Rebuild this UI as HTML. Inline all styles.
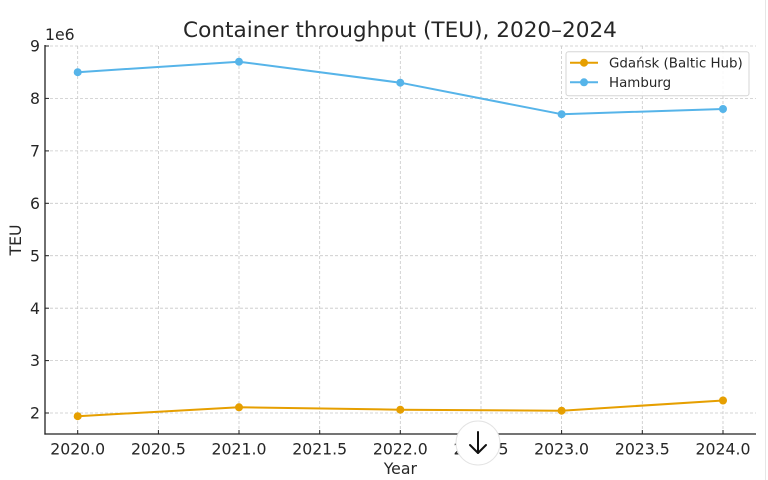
<!DOCTYPE html>
<html><head><meta charset="utf-8"><style>
html,body{margin:0;padding:0;background:#fff;}
svg{display:block;}
text{font-family:"DejaVu Sans","Liberation Sans",sans-serif;fill:#262626;}
</style></head><body>
<svg width="768" height="480" viewBox="0 0 768 480" xmlns="http://www.w3.org/2000/svg">
<rect width="768" height="480" fill="#fff"/>
<line x1="765.5" y1="0" x2="765.5" y2="480" stroke="#e6e6e6" stroke-width="1"/>
<!-- grid -->
<g stroke="#c8c8c8" stroke-width="0.8" stroke-dasharray="3,2">
<line x1="77.7" y1="46" x2="77.7" y2="434"/>
<line x1="158.4" y1="46" x2="158.4" y2="434"/>
<line x1="239" y1="46" x2="239" y2="434"/>
<line x1="319.7" y1="46" x2="319.7" y2="434"/>
<line x1="400.3" y1="46" x2="400.3" y2="434"/>
<line x1="481" y1="46" x2="481" y2="434"/>
<line x1="561.6" y1="46" x2="561.6" y2="434"/>
<line x1="642.3" y1="46" x2="642.3" y2="434"/>
<line x1="723" y1="46" x2="723" y2="434"/>
<line x1="45" y1="46" x2="756" y2="46"/>
<line x1="45" y1="98.4" x2="756" y2="98.4"/>
<line x1="45" y1="150.9" x2="756" y2="150.9"/>
<line x1="45" y1="203.3" x2="756" y2="203.3"/>
<line x1="45" y1="255.7" x2="756" y2="255.7"/>
<line x1="45" y1="308.2" x2="756" y2="308.2"/>
<line x1="45" y1="360.6" x2="756" y2="360.6"/>
<line x1="45" y1="413" x2="756" y2="413"/>
</g>
<!-- spines -->
<line x1="45" y1="45" x2="45" y2="434.6" stroke="#222" stroke-width="1.3"/>
<line x1="44.4" y1="434" x2="756" y2="434" stroke="#222" stroke-width="1.3"/>
<!-- ticks -->
<g stroke="#222" stroke-width="1">
<line x1="45" y1="46" x2="49" y2="46"/>
<line x1="45" y1="98.4" x2="49" y2="98.4"/>
<line x1="45" y1="150.9" x2="49" y2="150.9"/>
<line x1="45" y1="203.3" x2="49" y2="203.3"/>
<line x1="45" y1="255.7" x2="49" y2="255.7"/>
<line x1="45" y1="308.2" x2="49" y2="308.2"/>
<line x1="45" y1="360.6" x2="49" y2="360.6"/>
<line x1="45" y1="413" x2="49" y2="413"/>
<line x1="77.7" y1="434" x2="77.7" y2="430"/>
<line x1="158.4" y1="434" x2="158.4" y2="430"/>
<line x1="239" y1="434" x2="239" y2="430"/>
<line x1="319.7" y1="434" x2="319.7" y2="430"/>
<line x1="400.3" y1="434" x2="400.3" y2="430"/>
<line x1="481" y1="434" x2="481" y2="430"/>
<line x1="561.6" y1="434" x2="561.6" y2="430"/>
<line x1="642.3" y1="434" x2="642.3" y2="430"/>
<line x1="723" y1="434" x2="723" y2="430"/>
</g>
<!-- y tick labels -->
<g font-size="15.7" text-anchor="end">
<text x="40" y="51.6">9</text>
<text x="40" y="104">8</text>
<text x="40" y="156.5">7</text>
<text x="40" y="208.9">6</text>
<text x="40" y="261.3">5</text>
<text x="40" y="313.8">4</text>
<text x="40" y="366.2">3</text>
<text x="40" y="418.6">2</text>
</g>
<!-- x tick labels -->
<g font-size="15.7" text-anchor="middle">
<text x="77.7" y="454.5">2020.0</text>
<text x="158.4" y="454.5">2020.5</text>
<text x="239" y="454.5">2021.0</text>
<text x="319.7" y="454.5">2021.5</text>
<text x="400.3" y="454.5">2022.0</text>
<text x="481" y="454.5">2022.5</text>
<text x="561.6" y="454.5">2023.0</text>
<text x="642.3" y="454.5">2023.5</text>
<text x="723" y="454.5">2024.0</text>
</g>
<text x="45" y="40" font-size="15.7">1e6</text>
<text x="400.3" y="474" font-size="15.7" text-anchor="middle">Year</text>
<text transform="translate(21,240) rotate(-90)" font-size="15.7" text-anchor="middle">TEU</text>
<text x="400" y="37" font-size="21.6" text-anchor="middle">Container throughput (TEU), 2020–2024</text>
<!-- series -->
<polyline fill="none" stroke="#56B4E9" stroke-width="2" stroke-linejoin="round" points="77.7,72.2 239,61.7 400.3,82.7 561.6,114.2 723,109"/>
<g fill="#56B4E9">
<circle cx="77.7" cy="72.2" r="4"/><circle cx="239" cy="61.7" r="4"/><circle cx="400.3" cy="82.7" r="4"/><circle cx="561.6" cy="114.2" r="4"/><circle cx="723" cy="109" r="4"/>
</g>
<polyline fill="none" stroke="#E69F00" stroke-width="2" stroke-linejoin="round" points="77.7,416.2 239,407.3 400.3,409.7 561.6,410.7 723,400.5"/>
<g fill="#E69F00">
<circle cx="77.7" cy="416.2" r="4"/><circle cx="239" cy="407.3" r="4"/><circle cx="400.3" cy="409.7" r="4"/><circle cx="561.6" cy="410.7" r="4"/><circle cx="723" cy="400.5" r="4"/>
</g>
<!-- legend -->
<rect x="566" y="51.7" width="183" height="44" rx="2.5" fill="#fff" fill-opacity="0.85" stroke="#d5d5d5" stroke-width="1"/>
<line x1="570" y1="62.7" x2="598" y2="62.7" stroke="#E69F00" stroke-width="2"/>
<circle cx="584" cy="62.7" r="4" fill="#E69F00"/>
<line x1="570" y1="82.3" x2="598" y2="82.3" stroke="#56B4E9" stroke-width="2"/>
<circle cx="584" cy="82.3" r="4" fill="#56B4E9"/>
<text x="609" y="67.6" font-size="13.4">Gdańsk (Baltic Hub)</text>
<text x="609" y="87.2" font-size="13.4">Hamburg</text>
<!-- download button -->
<circle cx="478" cy="443" r="22" fill="#fff" stroke="#e3e3e3" stroke-width="1"/>
<g stroke="#111" stroke-width="2" fill="none" stroke-linecap="round" stroke-linejoin="round">
<line x1="478" y1="432" x2="478" y2="453"/>
<polyline points="470,445 478,453 486,445"/>
</g>
</svg>
</body></html>
